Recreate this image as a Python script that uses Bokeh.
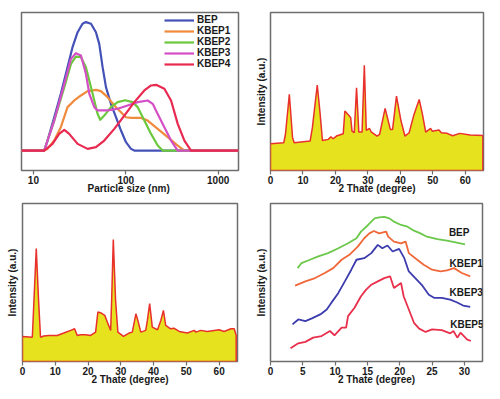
from bokeh.plotting import figure
from bokeh.layouts import column, row
from bokeh.models import Range1d, FixedTicker, BasicTickFormatter
from bokeh.core.properties import value
from bokeh.embed import file_html
from bokeh.resources import INLINE

FONT = "Liberation Sans"
FRAME = "#6e6e6e"
TXT = "#1a1a1a"

# ---------------- Panel 1: particle size distribution ----------------
bep_x = [7.4, 13.1, 14.2, 16.8, 19.8, 23.4, 26.5, 30.1, 34.0, 37.0, 42.0, 47.5, 51.6, 56.1, 61.0, 69.0, 78.3, 88.7, 100.5, 113.8, 123.7, 1660]
bep_y = [0, 0, 7.8, 26.0, 44.3, 65.1, 80.7, 92.4, 99.0, 100.3, 99.0, 92.4, 83.3, 65.1, 49.5, 36.5, 26.0, 15.6, 6.5, 1.3, 0, 0]

kbep1_x = [7.4, 13.1, 14.2, 16.8, 19.8, 23.4, 27.7, 32.7, 38.6, 47.5, 53.8, 63.6, 75.1, 88.7, 100.5, 113.8, 146.2, 172.6, 221.5, 284.3, 365.0, 430.9, 1660]
kbep1_y = [0, 0, 1.3, 7.8, 18.2, 33.9, 39.1, 43.0, 46.4, 47.4, 46.4, 41.7, 35.2, 29.9, 26.0, 25.5, 25.5, 23.4, 16.9, 10.4, 3.9, 0, 0]

kbep2_x = [7.4, 13.1, 16.8, 21.6, 25.5, 28.8, 32.7, 37.0, 42.0, 45.6, 49.5, 52.9, 58.5, 69.0, 81.6, 96.4, 100.5, 118.6, 134.5, 158.8, 187.7, 221.5, 250.9, 1660]
kbep2_y = [0, 0, 23.4, 49.5, 67.7, 73.4, 72.9, 65.1, 49.5, 39.1, 28.6, 24.0, 27.3, 33.9, 37.8, 39.1, 39.1, 37.8, 33.9, 23.4, 13.0, 3.9, 0, 0]

kbep3_x = [7.4, 13.1, 16.8, 21.6, 25.5, 28.8, 32.7, 37.0, 40.3, 45.6, 49.5, 63.6, 81.6, 104.7, 134.5, 172.6, 195.6, 221.5, 261.6, 309.0, 365.0, 1660]
kbep3_y = [0, 0, 23.4, 52.1, 71.6, 76.0, 74.2, 59.9, 44.3, 33.9, 31.3, 31.3, 32.6, 35.2, 37.8, 39.1, 36.5, 28.6, 18.2, 7.8, 0, 0]

kbep4_x = [7.4, 13.1, 16.1, 19.0, 21.6, 24.4, 30.1, 38.6, 47.5, 58.5, 75.1, 96.4, 123.7, 158.8, 187.7, 212.5, 261.6, 309.0, 365.0, 430.9, 509.0, 1660]
kbep4_y = [0, 0, 5.2, 13.0, 16.1, 13.0, 5.2, 1.3, 2.6, 7.8, 16.9, 27.3, 37.8, 46.9, 50.8, 51.3, 48.2, 39.1, 20.8, 7.8, 0, 0]

size_names = ["BEP", "KBEP1", "KBEP2", "KBEP3", "KBEP4"]
size_colors = ["#4452b8", "#f08a3c", "#6cc83c", "#d44fc6", "#e82a50"]
size_ticks = [10, 100, 1000]

# ---------------- Panel 2: XRD (top right) ----------------
xrd1_x = [0.0, 4.07, 4.6, 5.8, 6.8, 7.3, 12.2, 12.9, 14.4, 15.3, 16.0, 17.8, 18.6, 19.3, 20.3, 22.4, 22.9, 23.9, 24.7, 25.1, 25.8, 26.5, 27.2, 28.2, 28.9, 29.5, 30.5, 31.0, 32.8, 33.6, 35.3, 36.9, 37.6, 38.8, 40.2, 41.4, 42.7, 44.2, 45.8, 46.8, 47.8, 49.3, 49.8, 51.9, 52.6, 54.4, 56.1, 58.3, 61.5, 65.4]
xrd1_y = [16.9, 17.5, 22.8, 48.2, 20.7, 17.5, 18.6, 27.1, 54.1, 35.5, 19.0, 19.7, 21.4, 20.1, 21.8, 23.3, 37.6, 35.5, 33.4, 24.9, 23.9, 52.4, 24.3, 24.3, 66.6, 25.4, 26.6, 24.5, 21.8, 22.8, 39.3, 26.0, 26.0, 47.1, 31.3, 21.8, 23.9, 35.5, 45.0, 35.5, 24.3, 26.6, 24.9, 25.6, 23.9, 23.5, 22.0, 23.5, 22.4, 22.2]

# ---------------- Panel 3: XRD (bottom left) ----------------
xrd2_x = [0.0, 3.0, 3.5, 4.2, 4.9, 5.5, 6.5, 8.0, 10.6, 12.6, 14.7, 15.9, 16.7, 17.7, 19.3, 20.8, 22.3, 23.0, 23.8, 25.1, 25.9, 26.9, 27.2, 27.7, 28.4, 29.1, 30.8, 32.5, 33.5, 34.6, 35.2, 36.1, 37.6, 38.1, 38.8, 39.6, 41.2, 42.2, 43.0, 43.7, 45.2, 46.2, 47.8, 50.3, 52.4, 52.9, 54.4, 56.4, 60.0, 61.5, 63.6, 64.6, 65.2]
xrd2_y = [15.9, 15.4, 38.7, 71.5, 38.7, 15.4, 16.1, 16.5, 16.5, 18.0, 19.7, 20.7, 16.5, 16.9, 16.9, 16.5, 18.6, 31.3, 30.9, 29.2, 24.9, 19.7, 38.7, 77.2, 38.7, 18.6, 15.9, 18.0, 18.6, 30.2, 26.0, 18.6, 19.7, 26.0, 36.6, 21.8, 20.1, 26.0, 32.3, 22.8, 20.7, 21.1, 19.0, 18.0, 19.7, 18.6, 19.7, 19.0, 20.1, 19.0, 20.7, 20.7, 16.5]

# ---------------- Panel 4: stacked XRD (bottom right) ----------------
s_bep_x = [4.2, 4.8, 6.1, 7.4, 8.9, 10.5, 12.0, 13.3, 14.0, 15.1, 16.1, 16.8, 17.6, 18.4, 19.1, 20.2, 21.2, 22.2, 23.2, 24.2, 25.8, 27.3, 28.8, 30.1]
s_bep_y = [59.1, 62.3, 64.4, 66.5, 68.6, 71.7, 74.8, 78.0, 82.2, 86.4, 90.6, 91.2, 91.6, 90.6, 88.5, 86.4, 85.3, 82.8, 81.1, 79.0, 77.4, 76.5, 75.3, 74.2]

s_k1_x = [3.8, 5.4, 6.9, 8.4, 9.7, 11.0, 12.2, 13.5, 14.5, 15.3, 16.0, 16.8, 17.9, 18.2, 19.1, 20.2, 20.9, 21.4, 22.7, 23.7, 25.0, 26.3, 27.3, 28.4, 29.6, 30.9]
s_k1_y = [48.0, 50.7, 52.8, 56.0, 59.1, 64.4, 67.5, 72.7, 78.0, 81.1, 82.6, 81.1, 82.2, 79.0, 75.9, 74.8, 75.9, 68.6, 64.4, 61.2, 58.1, 57.0, 57.7, 59.1, 56.0, 53.9]

s_k3_x = [3.4, 4.3, 5.4, 6.4, 7.7, 8.7, 9.4, 10.5, 11.5, 12.5, 13.3, 14.5, 15.6, 16.6, 17.3, 18.1, 18.9, 19.9, 20.7, 21.4, 22.4, 23.5, 24.5, 25.3, 26.5, 27.8, 28.8, 29.8, 30.9]
s_k3_y = [23.5, 26.6, 25.6, 27.3, 29.8, 32.9, 37.1, 43.4, 50.7, 58.1, 64.4, 65.4, 68.6, 73.8, 71.7, 73.4, 69.6, 71.3, 65.4, 57.0, 52.8, 48.0, 42.3, 40.3, 40.3, 39.2, 37.5, 35.4, 34.6]

s_k5_x = [3.1, 4.3, 5.4, 6.6, 7.9, 9.2, 9.9, 11.0, 11.7, 12.0, 13.0, 14.0, 14.8, 15.6, 16.6, 17.6, 18.5, 19.1, 20.2, 20.6, 21.4, 22.2, 23.0, 24.0, 25.0, 26.5, 27.8, 28.3, 28.9, 29.4, 30.4, 31.0]
s_k5_y = [8.4, 11.5, 12.4, 15.1, 16.1, 19.3, 16.6, 21.4, 21.4, 28.7, 34.0, 41.3, 45.5, 48.6, 50.7, 52.8, 53.9, 46.5, 49.7, 41.3, 32.9, 24.5, 20.8, 18.7, 20.3, 19.9, 17.8, 19.3, 15.1, 18.2, 14.0, 13.0]

stack_names = ["BEP", "KBEP1", "KBEP3", "KBEP5"]
stack_colors = ["#6cc84a", "#f0683a", "#3c3cae", "#e8304c"]
stack_label_x = [27.6, 27.7, 27.7, 27.8]
stack_label_y = [81.6, 62.0, 43.7, 23.4]

deg_ticks_wide = [0, 10, 20, 30, 40, 50, 60]
deg_ticks_narrow = [0, 5, 10, 15, 20, 25, 30]

FILL = "#e6e31e"
EDGE = "#e8302c"


def style(p, xlabel, ylabel, xticks, ystand=4):
    p.outline_line_color = FRAME
    p.outline_line_width = 1.5
    p.grid.visible = False
    p.background_fill_color = "white"
    p.border_fill_color = "white"
    xa = p.xaxis[0]
    xa.ticker = FixedTicker(ticks=xticks)
    xa.formatter = BasicTickFormatter()
    xa.axis_line_color = None
    xa.major_tick_line_color = FRAME
    xa.major_tick_line_width = 1.2
    xa.major_tick_out = 4
    xa.major_tick_in = 0
    xa.minor_tick_line_color = None
    xa.major_label_standoff = 1
    xa.major_label_text_font = FONT
    xa.major_label_text_font_style = "bold"
    xa.major_label_text_font_size = "10px"
    xa.major_label_text_color = TXT
    xa.axis_label = xlabel
    xa.axis_label_standoff = -4
    xa.axis_label_text_font = FONT
    xa.axis_label_text_font_style = "bold"
    xa.axis_label_text_font_size = "10px"
    xa.axis_label_text_color = TXT
    ya = p.yaxis[0]
    if ylabel is None:
        ya.visible = False
    else:
        ya.ticker = FixedTicker(ticks=[])
        ya.axis_line_color = None
        ya.major_tick_line_color = None
        ya.minor_tick_line_color = None
        ya.major_tick_out = 0
        ya.major_tick_in = 0
        ya.major_label_standoff = 0
        ya.axis_label = ylabel
        ya.axis_label_standoff = ystand
        ya.axis_label_text_font = FONT
        ya.axis_label_text_font_style = "bold"
        ya.axis_label_text_font_size = "10px"
        ya.axis_label_text_color = TXT


# ---- Panel 1
p1 = figure(width=252, height=198, x_axis_type="log",
            x_range=Range1d(7.43, 1660), y_range=Range1d(-15.6, 107.8),
            output_backend="svg", toolbar_location=None,
            min_border_left=21, min_border_right=14, min_border_top=12, min_border_bottom=28)
for xs, ys, nm, c in zip([bep_x, kbep1_x, kbep2_x, kbep3_x, kbep4_x],
                         [bep_y, kbep1_y, kbep2_y, kbep3_y, kbep4_y],
                         size_names, size_colors):
    p1.line(xs, ys, line_color=c, line_width=2.2, legend_label=nm, line_join="round")
style(p1, "Particle  size (nm)", None, size_ticks)
lg = p1.legend[0]
lg.location = (143, 101)
lg.border_line_color = None
lg.background_fill_alpha = 0
lg.padding = 0
lg.margin = 0
lg.spacing = 0
lg.glyph_width = 30
lg.glyph_height = 10
lg.label_height = 10
lg.label_standoff = 3
lg.label_text_font = FONT
lg.label_text_font_style = "bold"
lg.label_text_font_size = "10px"
lg.label_text_color = TXT
lg.label_text_line_height = 1.0

# ---- Panel 2
p2 = figure(width=248, height=198, x_range=Range1d(0, 65.6), y_range=Range1d(0, 100),
            output_backend="svg", toolbar_location=None,
            min_border_left=17, min_border_right=17, min_border_top=12, min_border_bottom=28)
p2.patch([xrd1_x[0]] + xrd1_x + [xrd1_x[-1]], [0] + xrd1_y + [0],
         fill_color=FILL, line_color=EDGE, line_width=1.5)
style(p2, "2 Thate (degree)", "Intensity (a.u.)", deg_ticks_wide, ystand=4)

# ---- Panel 3
p3 = figure(width=252, height=199, x_range=Range1d(0, 65.6), y_range=Range1d(0, 100),
            output_backend="svg", toolbar_location=None,
            min_border_left=22, min_border_right=15, min_border_top=5, min_border_bottom=36)
p3.patch([xrd2_x[0]] + xrd2_x + [xrd2_x[-1]], [0] + xrd2_y + [0],
         fill_color=FILL, line_color=EDGE, line_width=1.5)
style(p3, "2 Thate (degree)", "Intensity (a.u.)", deg_ticks_wide, ystand=5)

# ---- Panel 4
p4 = figure(width=248, height=199, x_range=Range1d(0, 32.8), y_range=Range1d(0, 100),
            output_backend="svg", toolbar_location=None,
            min_border_left=17, min_border_right=18, min_border_top=5, min_border_bottom=36)
for xs, ys, c in zip([s_bep_x, s_k1_x, s_k3_x, s_k5_x], [s_bep_y, s_k1_y, s_k3_y, s_k5_y], stack_colors):
    p4.line(xs, ys, line_color=c, line_width=1.8)
p4.text(x=stack_label_x, y=stack_label_y, text=stack_names,
        text_font=value(FONT), text_font_style="bold", text_font_size="10px",
        text_color=TXT, text_baseline="middle", text_align="left")
style(p4, "2 Thate (degree)", "Intensity (a.u.)", deg_ticks_narrow, ystand=4)

layout = column(row(p1, p2), row(p3, p4))
open("out.html", "w").write(file_html(layout, INLINE))
